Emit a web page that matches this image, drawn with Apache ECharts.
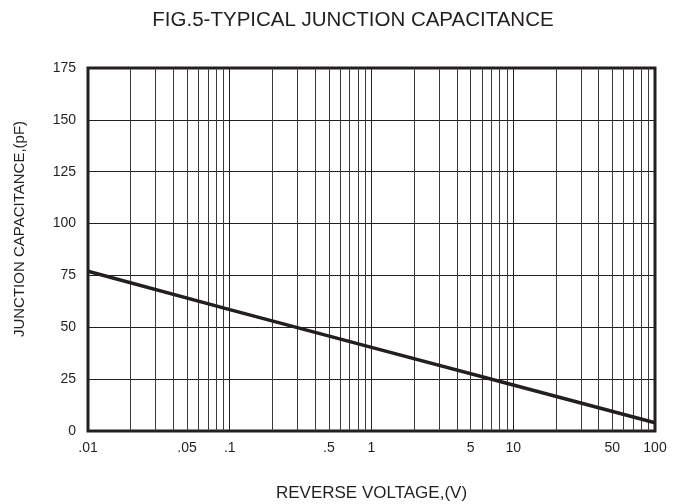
<!DOCTYPE html>
<html>
<head>
<meta charset="utf-8">
<script src="https://cdn.jsdelivr.net/npm/echarts@6/dist/echarts.min.js"></script>
<style>html,body{margin:0;padding:0;background:#fff}#c{width:685px;height:504px}</style>
</head>
<body>
<div id="c"></div>
<script>
var voltage = [0.01, 0.1, 1, 10, 100];
var capacitance = [77, 58.5, 40.3, 22.2, 4];
var xLabelValues = [0.01, 0.05, 0.1, 0.5, 1, 5, 10, 50, 100];
var xLabelTexts = ['.01', '.05', '.1', '.5', '1', '5', '10', '50', '100'];
var minorGrid = [0.02,0.03,0.04,0.05,0.06,0.07,0.08,0.09,
                 0.2,0.3,0.4,0.5,0.6,0.7,0.8,0.9,
                 2,3,4,5,6,7,8,9,
                 20,30,40,50,60,70,80,90];
var titleText = 'FIG.5-TYPICAL JUNCTION CAPACITANCE';
var xName = 'REVERSE VOLTAGE,(V)';
var yName = 'JUNCTION CAPACITANCE,(pF)';

var ink = '#231f20';
var font = 'Liberation Sans';
var chart = echarts.init(document.getElementById('c'), null, {renderer: 'canvas'});
chart.setOption({
  animation: false,
  title: {
    text: titleText,
    left: 348, top: 5, textAlign: 'center',
    textStyle: {fontFamily: font, fontSize: 20.5, fontWeight: 'normal', color: ink}
  },
  graphic: [{
    type: 'text', x: 20, y: 229, rotation: Math.PI / 2,
    style: {text: yName, fontFamily: font, fontSize: 15, fill: ink, align: 'center', verticalAlign: 'middle'}
  }],
  grid: {left: 88, right: 30, top: 68, bottom: 73, containLabel: false, outerBoundsMode: 'none',
         show: true, borderColor: ink, borderWidth: 3, backgroundColor: 'transparent'},
  xAxis: {
    type: 'log', logBase: 10, min: 0.01, max: 100,
    name: xName, nameLocation: 'middle', nameGap: 54,
    nameTextStyle: {fontFamily: font, fontSize: 17, color: ink},
    axisLine: {show: false}, axisTick: {show: false},
    axisLabel: {
      customValues: xLabelValues,
      formatter: function (v) {
        for (var i = 0; i < xLabelValues.length; i++) {
          if (Math.abs(Math.log10(v) - Math.log10(xLabelValues[i])) < 1e-6) return xLabelTexts[i];
        }
        return '';
      },
      fontFamily: font, fontSize: 14, color: ink, margin: 10
    },
    splitLine: {show: true, lineStyle: {color: ink, width: 1}}
  },
  yAxis: {
    type: 'value', min: 0, max: 175, interval: 25,
    axisLine: {show: false}, axisTick: {show: false},
    axisLabel: {fontFamily: font, fontSize: 14, color: ink, margin: 12},
    splitLine: {show: true, lineStyle: {color: ink, width: 1}}
  },
  series: [{
    type: 'line',
    data: voltage.map(function (v, i) { return [v, capacitance[i]]; }),
    showSymbol: false, symbol: 'none',
    lineStyle: {color: ink, width: 3.5},
    z: 5,
    markLine: {
      silent: true, symbol: 'none', label: {show: false},
      lineStyle: {color: '#3a3a3a', width: 1, type: 'solid'},
      data: minorGrid.map(function (v) { return {xAxis: v}; }),
      z: 1
    }
  }]
});
</script>
</body>
</html>
